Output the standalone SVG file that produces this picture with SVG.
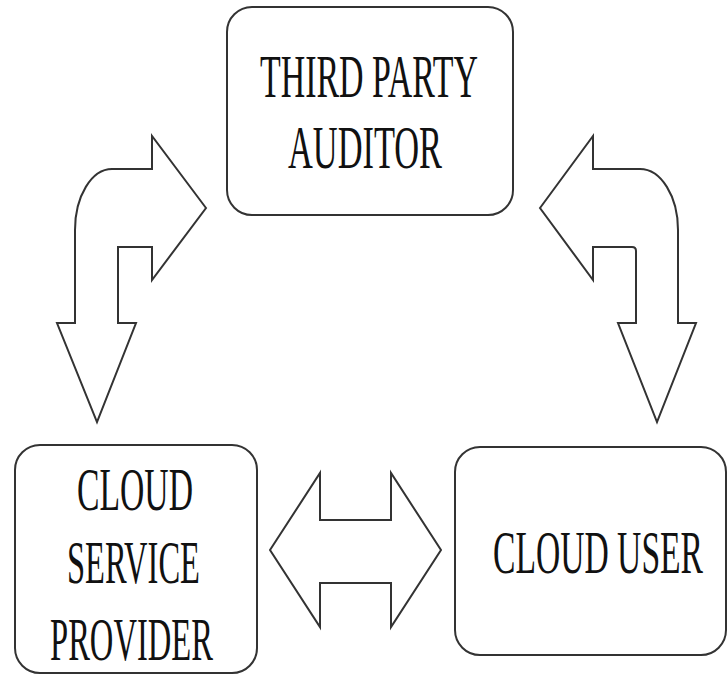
<svg xmlns="http://www.w3.org/2000/svg" width="728" height="678" viewBox="0 0 728 678">
<style>
.box{fill:#fff;stroke:#333;stroke-width:2}
.arr{fill:#fff;stroke:#333;stroke-width:2;stroke-linejoin:miter}
.t{font-family:"Liberation Serif","Times New Roman",serif;fill:#111;font-size:62px}
</style>
<rect width="728" height="678" fill="#fff"/>
<g id="connectors">
<path class="arr" d="M 206,208 L 152,136 L 152,169 L 112,169 A 37 61 0 0 0 75 230 L 75,323 L 57,323 L 97,422 L 136,323 L 118,323 L 118,247 L 152,247 L 152,280 Z"/>
<path class="arr" d="M 540,208 L 593,136 L 593,169 L 640,169 A 38 61 0 0 1 678 230 L 678,323 L 696,323 L 657,422 L 618,323 L 636,323 L 636,251 Q 636,247 632,247 L 593,247 L 593,280 Z"/>
<path class="arr" d="M 270,550 L 320,473 L 320,520 L 391,520 L 391,473 L 441,550 L 391,627 L 391,583 L 320,583 L 320,627 Z"/>
</g>
<g id="tpa">
<rect class="box" x="227" y="7" width="286" height="208" rx="25"/>
<text class="t" x="260" y="97" textLength="218" lengthAdjust="spacingAndGlyphs">THIRD PARTY</text>
<text class="t" x="288" y="168" textLength="154" lengthAdjust="spacingAndGlyphs">AUDITOR</text>
</g>
<g id="csp">
<rect class="box" x="15" y="445" width="242" height="228" rx="25"/>
<text class="t" x="77" y="510" textLength="116" lengthAdjust="spacingAndGlyphs">CLOUD</text>
<text class="t" x="67" y="583" textLength="133" lengthAdjust="spacingAndGlyphs">SERVICE</text>
<text class="t" x="50" y="660" textLength="163" lengthAdjust="spacingAndGlyphs">PROVIDER</text>
</g>
<g id="cu">
<rect class="box" x="455" y="447" width="271" height="208" rx="25"/>
<text class="t" x="493" y="573" textLength="210" lengthAdjust="spacingAndGlyphs">CLOUD USER</text>
</g>
</svg>
